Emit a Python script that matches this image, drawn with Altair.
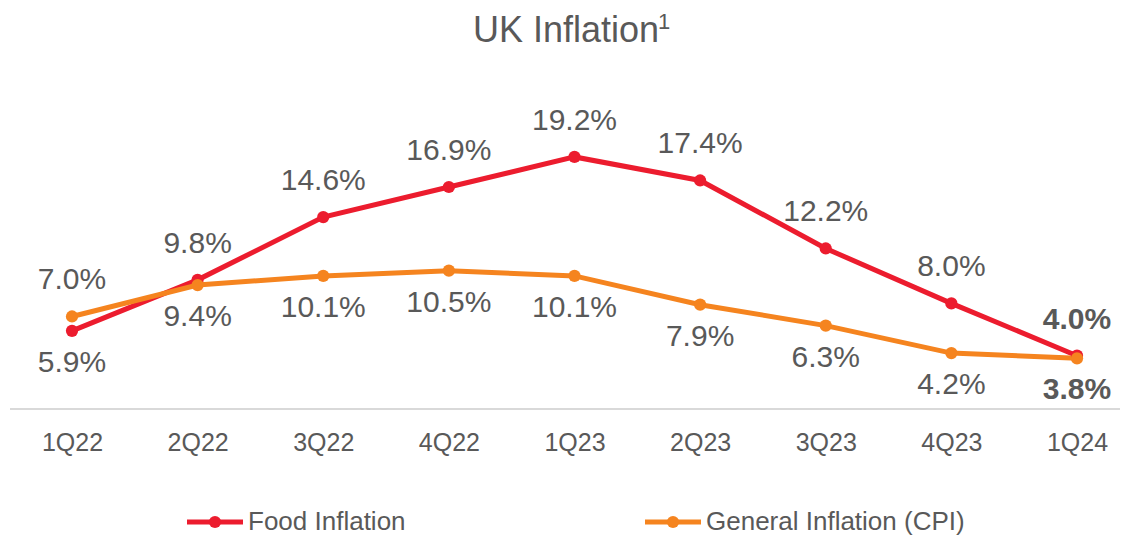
import altair as alt
import pandas as pd

quarters = ["1Q22", "2Q22", "3Q22", "4Q22", "1Q23", "2Q23", "3Q23", "4Q23", "1Q24"]
food_inflation = [5.9, 9.8, 14.6, 16.9, 19.2, 17.4, 12.2, 8.0, 4.0]
cpi_inflation = [7.0, 9.4, 10.1, 10.5, 10.1, 7.9, 6.3, 4.2, 3.8]
series_names = ["Food Inflation", "General Inflation (CPI)"]
series_colors = ["#EC1C2E", "#F5841F"]
title_text = "UK Inflation"
title_note = "1"

GRAY = "#595959"
FONT = "Liberation Sans"

rows = []
for i, q in enumerate(quarters):
    f, c = food_inflation[i], cpi_inflation[i]
    for name, v, other in [(series_names[0], f, c), (series_names[1], c, f)]:
        rows.append({
            "quarter": q,
            "series": name,
            "value": v,
            "label": f"{v:.1f}%",
            "side": "above" if v >= other else "below",
            "bold": q == quarters[-1],
        })
df = pd.DataFrame(rows)

x_enc = alt.X("quarter:N", sort=quarters,
              scale=alt.Scale(type="point", range=[64, 1069], padding=0),
              axis=alt.Axis(title=None, ticks=False, domain=False, grid=False,
                            labelAngle=0, labelFontSize=25, labelColor=GRAY,
                            labelFont=FONT, labelPadding=22))
y_enc = alt.Y("value:Q", scale=alt.Scale(domain=[0, 26.0], nice=False, zero=True),
              axis=None)
color_enc = alt.Color("series:N", scale=alt.Scale(domain=series_names, range=series_colors),
                      legend=None)

base = alt.Chart(df).encode(x=x_enc, y=y_enc, color=color_enc)

baseline = alt.Chart(pd.DataFrame({"a": [0]})).mark_rule(
    color="#D9D9D9", strokeWidth=2
).encode(x=alt.value(2), x2=alt.value(1112), y=alt.value(341))

lines = base.mark_line(strokeWidth=5)
points = base.mark_point(filled=True, size=150, opacity=1)

def label_layer(side, bold, dy):
    return base.transform_filter(
        (alt.datum.side == side) & (alt.datum.bold == bold)
    ).mark_text(
        dy=dy, fontSize=30, font=FONT, color=GRAY, baseline="middle",
        align="center", fontWeight="bold" if bold else "normal"
    ).encode(text="label:N", color=alt.value(GRAY))

labels = [
    label_layer("above", False, -36),
    label_layer("above", True, -36),
    label_layer("below", False, 32),
    label_layer("below", True, 32),
]

title = alt.Chart(pd.DataFrame({"t": [title_text]})).mark_text(
    fontSize=36, font=FONT, color=GRAY, align="left", baseline="alphabetic"
).encode(text="t:N", x=alt.value(465), y=alt.value(-26))
title_sup = alt.Chart(pd.DataFrame({"t": [title_note]})).mark_text(
    fontSize=22, font=FONT, color=GRAY, align="left", baseline="alphabetic"
).encode(text="t:N", x=alt.value(650), y=alt.value(-39))

legend_layers = []
for name, color, x0 in zip(series_names, series_colors, [179, 637]):
    d = pd.DataFrame({"name": [name]})
    legend_layers.append(alt.Chart(d).mark_rule(color=color, strokeWidth=5).encode(
        x=alt.value(x0), x2=alt.value(x0 + 56), y=alt.value(454)))
    legend_layers.append(alt.Chart(d).mark_point(filled=True, size=150, color=color, opacity=1).encode(
        x=alt.value(x0 + 28), y=alt.value(454)))
    legend_layers.append(alt.Chart(d).mark_text(
        fontSize=26, font=FONT, color=GRAY, align="left", baseline="alphabetic"
    ).encode(text="name:N", x=alt.value(x0 + 61), y=alt.value(462)))

chart = alt.layer(
    baseline, lines, points, *labels, title, title_sup, *legend_layers
).properties(
    width=1112, height=340,
    autosize=alt.AutoSizeParams(type="none"),
    padding={"top": 60, "left": 0, "right": 0, "bottom": 127},
).configure(background="white").configure_view(stroke=None)

chart.save("out.html", embed_options={"renderer": "svg", "actions": False})
